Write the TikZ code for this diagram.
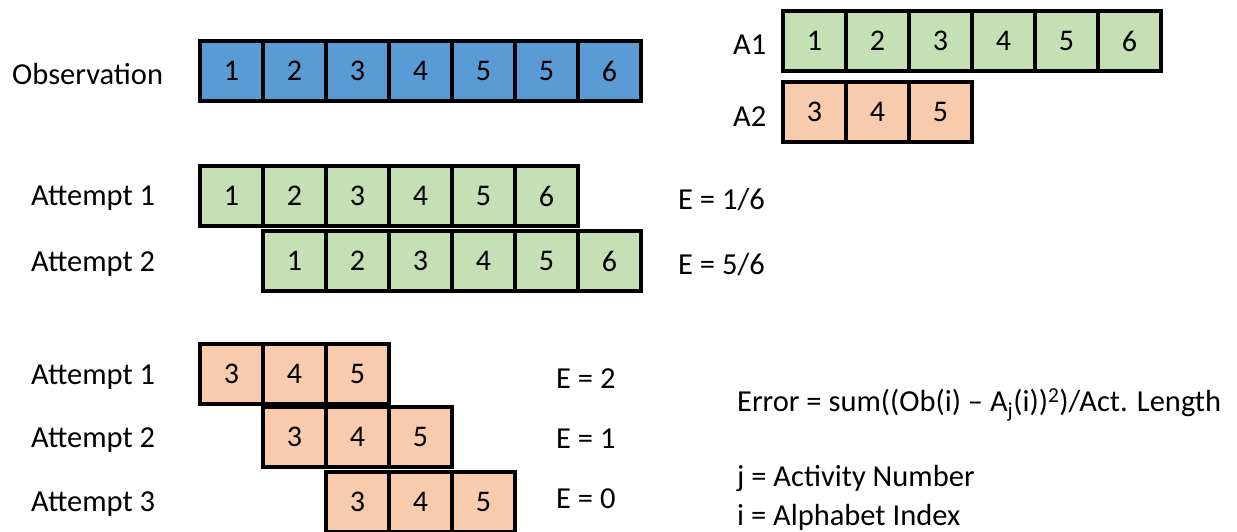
\documentclass[tikz,border=0pt]{standalone}
\usepackage{fontspec}
\setmainfont{Carlito}
\definecolor{obblue}{HTML}{5B9BD5}
\definecolor{agreen}{HTML}{C5E0B4}
\definecolor{aorange}{HTML}{F8CBAD}
\tikzset{
  cell/.style={draw=black, line width=4pt, minimum width=63pt, minimum height=60pt, inner sep=0pt, outer sep=0pt, font=\fontsize{30}{36}\selectfont},
  lbl/.style={anchor=west, inner sep=0pt, font=\fontsize{30.5}{36}\selectfont},
  etxt/.style={anchor=west, inner sep=0pt, font=\fontsize{30.5}{36}\selectfont},
}
\newcommand{\cellrow}[5]{% name, x0, ycenter, fill, list
  \foreach \v [count=\i] in {#5} {
    \node[cell, fill=#4] (#1\i) at ({#2+(\i-0.5)*63}, #3) {\v};
  }
}
\begin{document}
\begin{tikzpicture}[x=1pt, y=-1pt]
\useasboundingbox (0,0) rectangle (1237,532);
% Observation
\node[lbl] (lobs) at (12,74) {Observation};
\cellrow{obs}{200}{71}{obblue}{1,2,3,4,5,5,6}
% A1, A2
\node[lbl] (la1) at (733,45) {A1};
\cellrow{aa}{783}{41}{agreen}{1,2,3,4,5,6}
\node[lbl] (la2) at (733,117) {A2};
\cellrow{ab}{783}{112}{aorange}{3,4,5}
% green attempts
\node[lbl] (lg1) at (31,198) {Attempt 1};
\cellrow{ga}{200}{196}{agreen}{1,2,3,4,5,6}
\node[etxt] (eg1) at (678,200) {E = 1/6};
\node[lbl] (lg2) at (31,264) {Attempt 2};
\cellrow{gb}{263}{261}{agreen}{1,2,3,4,5,6}
\node[etxt] (eg2) at (678,265) {E = 5/6};
% orange attempts
\node[lbl] (lo1) at (31,377) {Attempt 1};
\cellrow{oa}{200}{374}{aorange}{3,4,5}
\node[etxt] (eo1) at (556,379) {E = 2};
\node[lbl] (lo2) at (31,440) {Attempt 2};
\cellrow{oy}{263}{437}{aorange}{3,4,5}
\node[etxt] (eo2) at (556,439) {E = 1};
\node[lbl] (lo3) at (31,504) {Attempt 3};
\cellrow{oc}{326}{502}{aorange}{3,4,5}
\node[etxt] (eo3) at (556,499) {E = 0};
% formula
\node[etxt] (form) at (737,405) {Error = sum((Ob(i) -- A\textsubscript{j}(i))\textsuperscript{2})/Act. Length};
\node[etxt] (jdef) at (737,479) {j = Activity Number};
\node[etxt] (idef) at (737,517) {i = Alphabet Index};
\end{tikzpicture}
\end{document}
